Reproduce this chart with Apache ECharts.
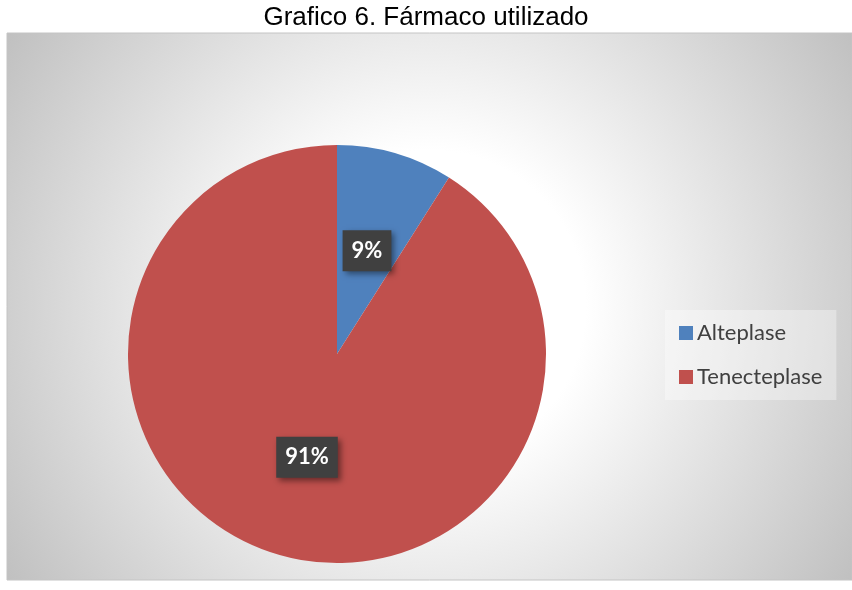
<!DOCTYPE html>
<html>
    <head>
        <meta http-equiv="Content-Type" content="text/html; charset=utf-8" />
        <title>Grafico 6</title>
        <script type="text/javascript" src="https://cdn.jsdelivr.net/npm/echarts@6/dist/echarts.min.js"></script>
        <style>
            html, body { margin: 0; padding: 0; background: #ffffff; }
        </style>
    </head>
    <body>
        <div style="width:852px;height:590px;" id="chart"></div>
        <script type="text/javascript">
            // datos del gráfico
            var farmacos = ['Alteplase', 'Tenecteplase'];
            var porcentajes = [9, 91];
            var colores = ['#4F81BD', '#C0504D'];

            var myChart = echarts.init(document.getElementById('chart'));

            var option = {
                backgroundColor: '#ffffff',
                animation: false,
                title: {
                    text: 'Grafico 6. Fármaco utilizado',
                    left: 'center',
                    top: 0,
                    textStyle: {
                        fontFamily: 'Liberation Sans',
                        fontWeight: 'normal',
                        fontSize: 26,
                        color: '#000000'
                    }
                },
                // fondo del área del gráfico con degradado radial
                graphic: [{
                    type: 'rect',
                    z: -10,
                    silent: true,
                    shape: { x: 7, y: 33, width: 845, height: 547 },
                    style: {
                        fill: new echarts.graphic.RadialGradient(0.5, 0.5, 0.95, [
                            { offset: 0, color: '#ffffff' },
                            { offset: 0.3, color: '#ffffff' },
                            { offset: 1, color: '#bdbdbd' }
                        ]),
                        stroke: '#c4c4c4',
                        lineWidth: 1
                    }
                }],
                legend: {
                    orient: 'vertical',
                    left: 665,
                    top: 310,
                    padding: [12, 14, 12, 14],
                    backgroundColor: 'rgba(255,255,255,0.35)',
                    itemWidth: 14,
                    itemHeight: 14,
                    itemGap: 22,
                    icon: 'rect',
                    data: farmacos,
                    textStyle: {
                        fontFamily: 'Lato',
                        fontSize: 22,
                        color: '#404040',
                        padding: [0, 0, 0, -1]
                    }
                },
                color: colores,
                series: [{
                    type: 'pie',
                    center: [337, 354],
                    radius: 209,
                    startAngle: 90,
                    clockwise: true,
                    avoidLabelOverlap: false,
                    percentPrecision: 0,
                    itemStyle: { borderWidth: 0 },
                    label: {
                        show: true,
                        position: 'inside',
                        formatter: '{d}%',
                        fontFamily: 'Lato',
                        fontWeight: 'bold',
                        fontSize: 22,
                        color: '#ffffff',
                        backgroundColor: '#404040',
                        padding: [10, 9, 9, 9],
                        shadowColor: 'rgba(0,0,0,0.45)',
                        shadowBlur: 6,
                        shadowOffsetX: 3,
                        shadowOffsetY: 3
                    },
                    labelLine: { show: false },
                    emphasis: { disabled: true },
                    data: farmacos.map(function (nombre, i) {
                        return { name: nombre, value: porcentajes[i] };
                    })
                }]
            };
            myChart.setOption(option);
        </script>
    </body>
</html>
